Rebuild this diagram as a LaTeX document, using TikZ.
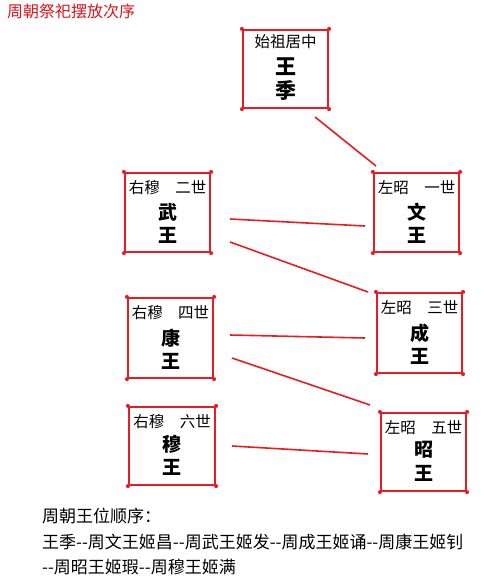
\documentclass[tikz,border=0pt]{standalone}
\usepackage{fontspec}
\setmainfont{Noto Sans CJK SC}
\newfontfamily\cjk{Noto Sans CJK SC}
\definecolor{boxred}{RGB}{232,28,36}
\definecolor{titlered}{RGB}{220,20,30}
\begin{document}
\begin{tikzpicture}[x=1pt,y=-1pt,
  tablet/.style={draw=boxred,line width=2.2pt,inner sep=0pt},
  hdr/.style={font=\fontsize{15.5}{17}\selectfont,inner sep=0pt},
  big/.style={font=\fontsize{19}{21}\selectfont\bfseries,inner sep=0pt},
  link/.style={draw=boxred,line width=1.6pt},
  btxt/.style={font=\fontsize{17}{19}\selectfont,anchor=west,inner sep=0pt}]
\useasboundingbox (0,0) rectangle (483,582);
\fill[white] (0,0) rectangle (483,582);

\node[anchor=west,inner sep=0pt,text=titlered,font=\fontsize{16}{18}\selectfont] (title) at (7,11) {周朝祭祀摆放次序};

% tablets
\newcommand\tablet[6]{%
  \node[tablet,minimum width=#4,minimum height=#5] (#1) at (#2,#3) {};
  \foreach \c in {north west,north east,south west,south east}
    \fill[boxred] (#1.\c) circle (2pt);
  \node[hdr] (#1h) at ([yshift=-16]#1.north) {#6};
}
\node[tablet,minimum width=85,minimum height=78] (wj) at (285.5,69) {};
\foreach \c in {north west,north east,south west,south east}
  \fill[boxred] (wj.\c) circle (2pt);
\node[hdr] (wjh) at ([yshift=-13]wj.north) {始祖居中};
\node[font=\fontsize{21}{24}\selectfont\bfseries,inner sep=0pt] (wjb1) at ([yshift=-38]wj.north) {王};
\node[font=\fontsize{21}{24}\selectfont\bfseries,inner sep=0pt] (wjb2) at ([yshift=-62]wj.north) {季};

\tablet{wu}{167.5}{212.5}{85}{79}{右穆　二世}
\node[big] (wub1) at (168,212) {武};
\node[big] (wub2) at (168,235) {王};
\tablet{wen}{416.5}{212.5}{85}{79}{左昭　一世}
\node[big] (wenb1) at (417,212) {文};
\node[big] (wenb2) at (417,235) {王};
\tablet{cheng}{419.5}{333}{85}{80}{左昭　三世}
\node[big] (chengb1) at (420,333) {成};
\node[big] (chengb2) at (420,356) {王};
\tablet{kang}{170.5}{338}{85}{80}{右穆　四世}
\node[big] (kangb1) at (171,338) {康};
\node[big] (kangb2) at (171,361) {王};
\tablet{zhao}{423.5}{452}{85}{78}{左昭　五世}
\node[big] (zhaob1) at (424,450) {昭};
\node[big] (zhaob2) at (424,473) {王};
\tablet{mu}{172}{446}{86}{78}{右穆　六世}
\node[big] (mub1) at (172,444) {穆};
\node[big] (mub2) at (172,467) {王};

% connectors
\coordinate (c1a) at (315,117); \coordinate (c1b) at (376,166);
\draw[link] (c1a) -- (c1b);
\coordinate (c2a) at (230,219); \coordinate (c2b) at (365,226);
\draw[link] (c2a) -- (c2b);
\coordinate (c3a) at (230,242); \coordinate (c3b) at (368,292);
\draw[link] (c3a) -- (c3b);
\coordinate (c4a) at (230,335); \coordinate (c4b) at (365,338);
\draw[link] (c4a) -- (c4b);
\coordinate (c5a) at (232,358); \coordinate (c5b) at (370,405);
\draw[link] (c5a) -- (c5b);
\coordinate (c6a) at (232,446); \coordinate (c6b) at (368,454);
\draw[link] (c6a) -- (c6b);

% bottom text
\node[btxt] (l1) at (42,516) {周朝王位顺序：};
\node[btxt] (l2) at (42,542) {王季-{}-周文王姬昌-{}-周武王姬发-{}-周成王姬诵-{}-周康王姬钊};
\node[btxt] (l3) at (42,567) {-{}-周昭王姬瑕-{}-周穆王姬满};
\end{tikzpicture}
\end{document}
